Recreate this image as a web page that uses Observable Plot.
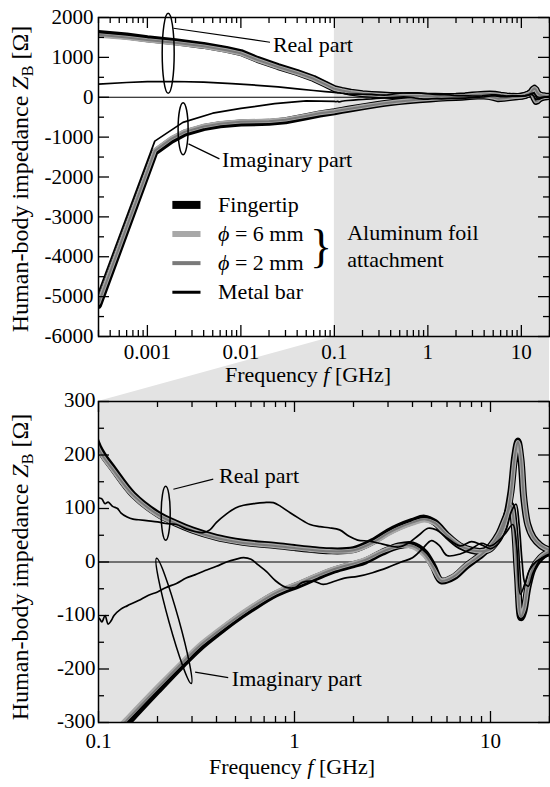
<!DOCTYPE html>
<html>
<head>
<meta charset="utf-8">
<script src="https://cdn.jsdelivr.net/npm/d3@7"></script>
<script src="https://cdn.jsdelivr.net/npm/@observablehq/plot@0.6"></script>
<style>
html,body{margin:0;padding:0;background:#fff;}
#wrap{position:relative;width:550px;height:787px;overflow:hidden;background:#fff;font-family:'Liberation Serif',serif;}
#wrap svg{position:absolute;left:0;}
#wrap svg text{font-family:'Liberation Serif','Times New Roman',serif !important;}
</style>
</head>
<body>
<div id="wrap"></div>
<script>
// ---------------- data ----------------
const seriesNames = ["Fingertip", "ϕ = 6 mm", "ϕ = 2 mm", "Metal bar"];

// Fingertip / aluminum foil attachments, real part
const freqBodyRe = [0.0003, 0.0006, 0.001, 0.002, 0.004, 0.007, 0.01, 0.015, 0.025, 0.04, 0.06, 0.08, 0.1, 0.12, 0.15, 0.2, 0.25, 0.3, 0.4, 0.5, 0.6, 0.8, 1, 1.2, 1.5, 2, 2.5, 3, 3.4, 4, 4.6, 5.2, 6, 7, 8, 9, 10, 11, 12, 12.7, 13.3, 13.8, 14.3, 14.8, 15.5, 16.5, 18, 20];
const reFingertip = [1600, 1535, 1465, 1390, 1300, 1200, 1120, 950, 770, 620, 470, 330, 215, 172, 126, 90, 72, 60, 46, 39, 35, 31, 27, 24, 21, 23, 38, 56, 66, 76, 82, 74, 50, 30, 22, 20, 25, 45, 82, 130, 198, 226, 192, 118, 70, 46, 31, 22];
const re6mm = [1550, 1490, 1425, 1355, 1268, 1172, 1095, 930, 752, 606, 460, 322, 211, 169, 124, 88, 71, 59, 45, 38, 34, 30, 26, 23, 20, 21, 35, 52, 62, 72, 78, 72, 50, 31, 22, 20, 24, 43, 78, 126, 194, 224, 194, 120, 70, 46, 31, 22];
const re2mm = [1565, 1500, 1435, 1365, 1278, 1180, 1102, 936, 758, 610, 463, 325, 212, 170, 125, 89, 71, 59, 45, 38, 34, 30, 26, 23, 20, 22, 36, 54, 64, 74, 80, 73, 50, 30, 22, 20, 24, 44, 80, 128, 196, 225, 193, 119, 70, 46, 31, 22];

// Fingertip / aluminum foil attachments, imaginary part
const freqBodyIm = [0.0003, 0.0012, 0.0018, 0.0025, 0.004, 0.006, 0.01, 0.02, 0.03, 0.05, 0.07, 0.1, 0.12, 0.14, 0.2, 0.27, 0.33, 0.4, 0.49, 0.6, 0.8, 1.06, 1.3, 1.6, 2, 2.3, 2.8, 3.4, 4, 4.6, 5.1, 5.6, 6.5, 7.5, 9, 10, 11, 12, 12.7, 13.2, 13.7, 14.3, 14.8, 15.5, 16.5, 18, 20];
const imFingertip = [-5220, -1380, -1080, -900, -760, -690, -645, -630, -590, -490, -420, -365, -330, -302, -241, -191, -160, -135, -110, -88, -60, -42, -28, -15, -5, 2, 18, 30, 32, 18, -8, -35, -28, -8, 14, 30, 52, 85, 106, 70, -20, -104, -92, -48, -12, 8, 20];
const im6mm = [-5150, -1330, -1030, -855, -720, -650, -605, -590, -555, -460, -395, -350, -318, -292, -233, -185, -154, -130, -106, -84, -57, -39, -25, -12, -2, 5, 20, 30, 28, 12, -12, -34, -26, -6, 15, 30, 52, 84, 104, 66, -24, -100, -88, -45, -10, 9, 20];
const im2mm = [-5170, -1345, -1045, -868, -732, -662, -615, -600, -565, -468, -402, -355, -322, -295, -236, -187, -156, -132, -108, -86, -58, -40, -26, -13, -3, 4, 19, 30, 30, 15, -10, -35, -27, -7, 14, 30, 52, 85, 105, 68, -22, -102, -90, -46, -11, 8, 20];

// Metal bar
const freqMetalRe = [0.0003, 0.0006, 0.001, 0.002, 0.004, 0.008, 0.015, 0.025, 0.04, 0.06, 0.08, 0.1, 0.104, 0.108, 0.112, 0.118, 0.125, 0.13, 0.14, 0.15, 0.16, 0.18, 0.2, 0.22, 0.25, 0.28, 0.31, 0.34, 0.37, 0.4, 0.45, 0.5, 0.55, 0.62, 0.7, 0.78, 0.85, 0.95, 1.05, 1.2, 1.35, 1.5, 1.7, 1.9, 2.1, 2.4, 2.7, 3, 3.4, 3.8, 4.3, 4.8, 5.3, 6, 7, 8, 9, 10, 11, 12, 12.8, 13.5, 14, 14.5, 15, 15.6, 16.5, 18, 20];
const reMetal = [330, 370, 390, 395, 380, 340, 300, 262, 212, 170, 140, 120, 118, 109, 112, 104, 100, 92, 84, 80, 79, 77, 75, 72, 70, 62, 57, 55, 60, 74, 90, 101, 106, 109, 111, 111, 104, 92, 82, 70, 66, 64, 60, 48, 41, 39, 35, 31, 28, 35, 50, 63, 60, 45, 30, 38, 32, 25, 35, 60, 95, 108, 70, 0, -40, -45, -20, 5, 15];
const freqMetalIm = [0.0003, 0.0012, 0.0024, 0.005, 0.01, 0.023, 0.05, 0.1, 0.104, 0.108, 0.112, 0.116, 0.12, 0.13, 0.14, 0.16, 0.18, 0.2, 0.22, 0.25, 0.28, 0.31, 0.35, 0.4, 0.45, 0.5, 0.55, 0.6, 0.65, 0.72, 0.8, 0.9, 1, 1.1, 1.25, 1.4, 1.6, 1.8, 2.1, 2.5, 3, 3.5, 4, 4.5, 5, 5.5, 6, 7, 8, 9, 10, 11, 12, 13, 13.6, 14.2, 15, 15.8, 17, 18.5, 20];
const imMetal = [-4900, -1100, -630, -400, -280, -160, -90, -104, -112, -100, -116, -110, -100, -88, -82, -72, -62, -56, -48, -40, -30, -24, -16, -8, 0, 5, 8, 5, -5, -18, -35, -47, -48, -38, -36, -42, -36, -30, -27, -20, -10, 0, 8, 25, 40, 30, 12, 15, 25, 35, 30, 40, 55, 70, 30, -60, -40, -15, 0, 8, 12];

// axes
const xTicksTop = [0.001, 0.01, 0.1, 1, 10];
const yTicksTop = [-6000, -5000, -4000, -3000, -2000, -1000, 0, 1000, 2000];
const xTicksBottom = [0.1, 1, 10];
const yTicksBottom = [-300, -200, -100, 0, 100, 200, 300];
const xDomainTop = [0.0003, 20];
const yDomainTop = [-6000, 2000];
const xDomainBottom = [0.1, 20];   // zoomed region
const yDomainBottom = [-300, 300];

// ---------------- tidy table ----------------
function rows(series, part, fs, vs) { return fs.map((f, i) => ({series, part, f, v: vs[i]})); }
const table = [
  ...rows("Fingertip", "re", freqBodyRe, reFingertip),
  ...rows("Fingertip", "im", freqBodyIm, imFingertip),
  ...rows("ϕ = 6 mm", "re", freqBodyRe, re6mm),
  ...rows("ϕ = 6 mm", "im", freqBodyIm, im6mm),
  ...rows("ϕ = 2 mm", "re", freqBodyRe, re2mm),
  ...rows("ϕ = 2 mm", "im", freqBodyIm, im2mm),
  ...rows("Metal bar", "re", freqMetalRe, reMetal),
  ...rows("Metal bar", "im", freqMetalIm, imMetal)
];

// ---------------- styling ----------------
const FONT = "Liberation Serif";
const GRAY_BG = "#e3e3e3";
const TICK_FS = 21;
const lineStyle = {
  "Fingertip": {stroke: "#000000", w: 7, legendW: 8},
  "ϕ = 6 mm": {stroke: "#a8a8a8", w: 4.4, legendW: 6},
  "ϕ = 2 mm": {stroke: "#7a7a7a", w: 2.0, legendW: 4},
  "Metal bar": {stroke: "#000000", w: 1.7, legendW: 3}
};

function seriesLines(curve) {
  const out = [];
  for (const s of seriesNames) for (const p of ["re", "im"]) {
    out.push(Plot.line(table.filter(d => d.series === s && d.part === p), {
      x: "f", y: "v", stroke: lineStyle[s].stroke, strokeWidth: lineStyle[s].w,
      curve, clip: true, strokeLinecap: "round", strokeLinejoin: "round"
    }));
  }
  return out;
}

function minorTicks(domain, majors) {
  return d3.scaleLog().domain(domain).ticks().filter(t => !majors.some(m => Math.abs(m / t - 1) < 1e-6));
}

function tickMarks(xMaj, xMin, yMaj, yMin, fw, fh) {
  const L = 11, l = 6, sw = 1.3;
  const o = {stroke: "black", strokeWidth: sw};
  return [
    Plot.tickX(xMaj, {x: d => d, insetTop: fh - L, ...o}),
    Plot.tickX(xMaj, {x: d => d, insetBottom: fh - L, ...o}),
    Plot.tickX(xMin, {x: d => d, insetTop: fh - l, ...o}),
    Plot.tickX(xMin, {x: d => d, insetBottom: fh - l, ...o}),
    Plot.tickY(yMaj, {y: d => d, insetRight: fw - L, ...o}),
    Plot.tickY(yMaj, {y: d => d, insetLeft: fw - L, ...o}),
    Plot.tickY(yMin, {y: d => d, insetRight: fw - l, ...o}),
    Plot.tickY(yMin, {y: d => d, insetLeft: fw - l, ...o})
  ];
}

function ellipses(list) {
  return (index, scales) => {
    const g = d3.create("svg:g").attr("fill", "none").attr("stroke", "black").attr("stroke-width", 1.5);
    for (const e of list) {
      g.append("ellipse").attr("rx", e.rx).attr("ry", e.ry)
        .attr("transform", `translate(${scales.x(e.f)},${scales.y(e.v)}) rotate(${e.angle})`);
    }
    return g.node();
  };
}

const txt = {fontFamily: FONT, fill: "black"};

// ---------------- top panel ----------------
const TOP = {width: 550, height: 401, marginLeft: 98, marginRight: 1, marginTop: 17, marginBottom: 65};
const topFW = TOP.width - TOP.marginLeft - TOP.marginRight;
const topFH = TOP.height - TOP.marginTop - TOP.marginBottom;

const trapezoid = (index, scales, values, dims) => {
  const x0 = scales.x(xDomainBottom[0]), x1 = scales.x(xDomainBottom[1]), yb = scales.y(yDomainTop[0]);
  const pts = [[x0, yb], [x1, yb], [dims.width - dims.marginRight, dims.height], [dims.marginLeft, dims.height]];
  return d3.create("svg:polygon").attr("points", pts.map(p => p.join(",")).join(" ")).attr("fill", GRAY_BG).node();
};

const legendRows = [
  {name: "Fingertip", v: -2700},
  {name: "ϕ = 6 mm", v: -3430},
  {name: "ϕ = 2 mm", v: -4160},
  {name: "Metal bar", v: -4890}
];

const topPlot = Plot.plot({
  ...TOP,
  x: {type: "log", domain: xDomainTop, axis: null},
  y: {domain: yDomainTop, axis: null},
  style: {background: "transparent", overflow: "visible"},
  marks: [
    trapezoid,
    Plot.rect([xDomainBottom], {x1: d => d[0], x2: d => d[1], y1: yDomainTop[0], y2: yDomainTop[1], fill: GRAY_BG}),
    Plot.ruleY([0], {stroke: "black", strokeWidth: 1}),
    ...seriesLines("linear"),
    ...tickMarks(xTicksTop, minorTicks(xDomainTop, xTicksTop),
      yTicksTop, d3.range(-5500, 2000, 1000), topFW, topFH),
    Plot.frame({stroke: "black", strokeWidth: 1.5}),
    Plot.text(xTicksTop, {x: d => d, text: d => String(d), frameAnchor: "bottom", textAnchor: "middle", dy: 22, fontSize: TICK_FS, ...txt}),
    Plot.text(yTicksTop, {y: d => d, text: d => String(d), frameAnchor: "left", textAnchor: "end", dx: -5, fontSize: TICK_FS, ...txt}),
    Plot.text(["Frequency f [GHz]"], {frameAnchor: "bottom", textAnchor: "middle", dy: 45, dx: -16, fontSize: 22, ...txt}),
    Plot.text(["Human-body impedance ZB [Ω]"], {frameAnchor: "left", textAnchor: "middle", rotate: -90, dx: -78, dy: 2, fontSize: 24, ...txt}),
    // annotations
    ellipses([{f: 0.00169, v: 1090, rx: 6, ry: 40, angle: 0}, {f: 0.00244, v: -800, rx: 5, ry: 26, angle: 0}]),
    Plot.link([{f1: 0.0019, v1: 1730, f2: 0.0205, v2: 1380}, {f1: 0.00275, v1: -1170, f2: 0.0059, v2: -1545}],
      {x1: "f1", y1: "v1", x2: "f2", y2: "v2", stroke: "black", strokeWidth: 1.2}),
    Plot.text([{f: 0.022, v: 1300, t: "Real part"}, {f: 0.0063, v: -1580, t: "Imaginary part"}],
      {x: "f", y: "v", text: "t", textAnchor: "start", fontSize: 22, ...txt}),
    // legend
    Plot.link(legendRows, {x1: 0.00185, x2: 0.0037, y1: "v", y2: "v",
      stroke: d => lineStyle[d.name].stroke, strokeWidth: d => lineStyle[d.name].legendW}),
    Plot.text(legendRows, {x: 0.0057, y: "v", text: "name", textAnchor: "start", fontSize: 22, ...txt}),
    Plot.text(["}"], {x: 0.072, y: -3760, fontSize: 46, ...txt}),
    Plot.text([{t: "Aluminum foil", v: -3400}, {t: "attachment", v: -4070}],
      {x: 0.137, y: "v", text: "t", textAnchor: "start", fontSize: 22, ...txt})
  ]
});

// ---------------- bottom panel ----------------
const BOT = {width: 550, height: 395, marginLeft: 98, marginRight: 1, marginTop: 9, marginBottom: 65};
const botFW = BOT.width - BOT.marginLeft - BOT.marginRight;
const botFH = BOT.height - BOT.marginTop - BOT.marginBottom;

const bottomPlot = Plot.plot({
  ...BOT,
  x: {type: "log", domain: xDomainBottom, axis: null},
  y: {domain: yDomainBottom, axis: null},
  style: {background: "transparent", overflow: "visible"},
  marks: [
    Plot.frame({fill: GRAY_BG}),
    Plot.ruleY([0], {stroke: "black", strokeWidth: 1}),
    ...seriesLines("catmull-rom"),
    ...tickMarks(xTicksBottom, minorTicks(xDomainBottom, xTicksBottom),
      yTicksBottom, d3.range(-250, 300, 100), botFW, botFH),
    Plot.frame({stroke: "black", strokeWidth: 1.5}),
    Plot.text(xTicksBottom, {x: d => d, text: d => String(d), frameAnchor: "bottom", textAnchor: "middle", dy: 25, fontSize: TICK_FS, ...txt}),
    Plot.text(yTicksBottom, {y: d => d, text: d => String(d), frameAnchor: "left", textAnchor: "end", dx: -3, dy: -1, fontSize: TICK_FS, ...txt}),
    Plot.text(["Frequency f [GHz]"], {frameAnchor: "bottom", textAnchor: "middle", dy: 51, dx: -32, fontSize: 22, ...txt}),
    Plot.text(["Human-body impedance ZB [Ω]"], {frameAnchor: "left", textAnchor: "middle", rotate: -90, dx: -78, dy: 5, fontSize: 24, ...txt}),
    ellipses([{f: 0.2215, v: 90, rx: 4.5, ry: 27, angle: 0}, {f: 0.244, v: -111, rx: 5, ry: 65, angle: -15.5}]),
    Plot.link([{f1: 0.241, v1: 136, f2: 0.385, v2: 155}, {f1: 0.311, v1: -206, f2: 0.459, v2: -216}],
      {x1: "f1", y1: "v1", x2: "f2", y2: "v2", stroke: "black", strokeWidth: 1.2}),
    Plot.text([{f: 0.412, v: 160, t: "Real part"}, {f: 0.479, v: -218, t: "Imaginary part"}],
      {x: "f", y: "v", text: "t", textAnchor: "start", fontSize: 22, ...txt})
  ]
});

const wrap = document.getElementById("wrap");
topPlot.style.top = "0px";
bottomPlot.style.top = "392px";
wrap.appendChild(topPlot);
wrap.appendChild(bottomPlot);

// ---------------- rich text (italics, subscript) ----------------
const rich = {
  "Human-body impedance ZB [Ω]": t => {
    t.append("tspan").text("Human-body impedance ");
    t.append("tspan").attr("font-style", "italic").text("Z");
    t.append("tspan").attr("font-size", "16").attr("dy", "5").text("B");
    t.append("tspan").attr("dy", "-5").text(" [Ω]");
  },
  "Frequency f [GHz]": t => {
    t.append("tspan").text("Frequency ");
    t.append("tspan").attr("font-style", "italic").text("f");
    t.append("tspan").text(" [GHz]");
  },
  "ϕ = 6 mm": t => { t.append("tspan").attr("font-style", "italic").text("ϕ"); t.append("tspan").text(" = 6 mm"); },
  "ϕ = 2 mm": t => { t.append("tspan").attr("font-style", "italic").text("ϕ"); t.append("tspan").text(" = 2 mm"); }
};
d3.selectAll("#wrap text").each(function () {
  const s = this.textContent;
  if (rich[s]) { const t = d3.select(this); t.text(null); rich[s](t); }
});
</script>
</body>
</html>
